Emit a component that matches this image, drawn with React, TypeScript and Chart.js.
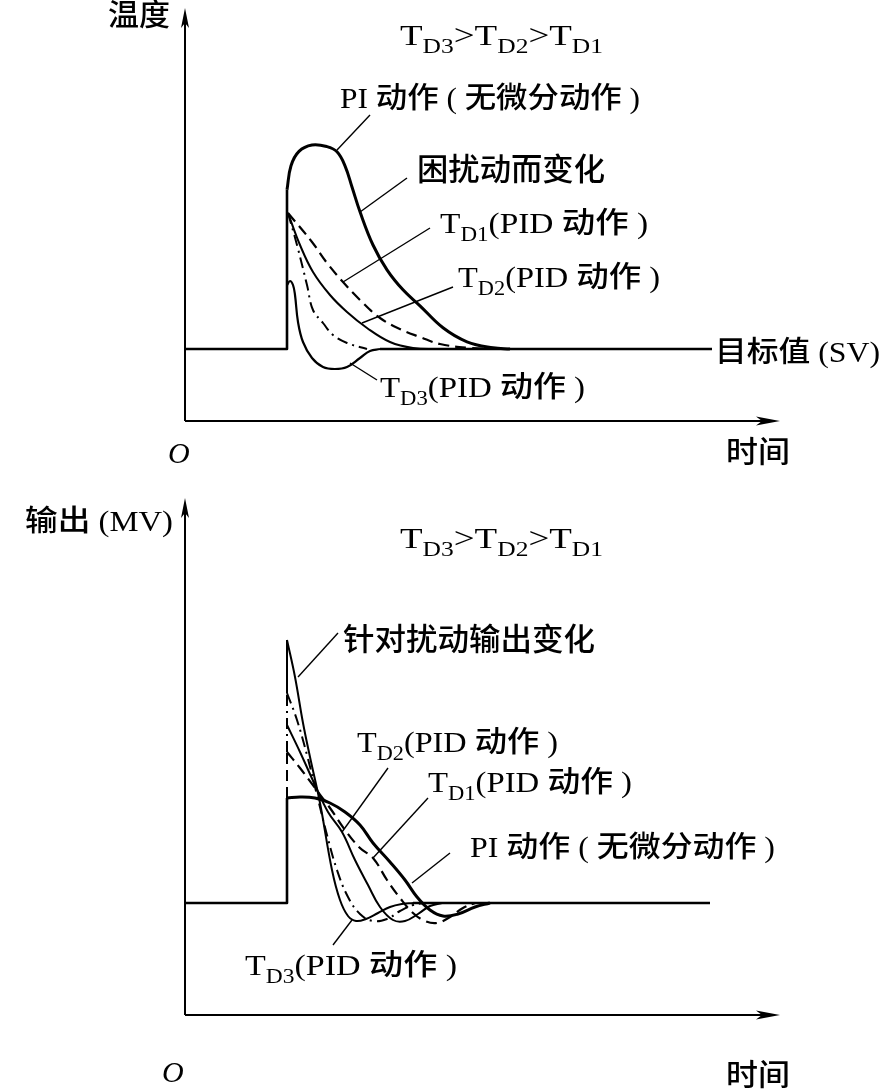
import React, { useEffect, useRef } from "react";
import { Chart, registerables } from "chart.js";
Chart.register(...registerables);

type P = [number, number];
type Part = [string, boolean];

const SERIF = '"Liberation Serif", "Noto Sans CJK SC", serif';
const X_MAX = 119;
const TOP_Y_MAX = 103.25;
const BOT_Y_MAX = 103.4;

// ---------- 温度 (top) ----------
const topBaseLeft: P[] = [[0, 18], [20.4, 18], [20.4, 57.8]];
const topBaseRight: P[] = [[39, 18], [105.4, 18]];
const topPI: P[] = [[20.4, 57.8], [21.2, 63.8], [22.8, 67.4], [25.4, 69], [28.4, 68.6], [30.4, 67.3], [32, 63.8], [33.4, 58.5], [35, 52.3], [37.6, 44], [40.4, 37.8], [43.6, 32.8], [47, 28.8], [51.6, 23.3], [56.4, 19.8], [61.6, 18.3], [65, 18]];
const topTD1: P[] = [[20.6, 52], [25.4, 44.75], [28.4, 39.5], [31.6, 34.75], [35, 30.25], [39, 25.75], [43.4, 22.75], [47, 21], [51, 19.25], [57, 18.25], [62, 18]];
const topTD2: P[] = [[20.6, 52], [23, 44], [25.6, 37.25], [29, 31.5], [32.4, 27.25], [36.4, 23.25], [41, 19.75], [45.6, 18.25], [51, 18]];
const topDD: P[] = [[20.6, 52], [22.4, 44], [24.4, 34], [25.6, 27.75], [27.6, 24.5], [29.6, 21.5], [32.4, 19.5], [36.4, 18]];
const topTD3: P[] = [[20.4, 34], [21, 35], [21.6, 34], [22, 31.5], [22.6, 24.75], [23.6, 19.75], [25.4, 15.75], [27.6, 13.5], [30, 13], [32.4, 13.5], [35, 15.75], [37, 17.5], [39, 18]];

// ---------- 输出 (bottom) ----------
const botBaseLeft: P[] = [[0, 22.4], [20.4, 22.4], [20.4, 43.4]];
const botBaseRight: P[] = [[45.6, 22.4], [105, 22.4]];
const botStepTD1: P[] = [[20.4, 43.4], [20.4, 52.6]];
const botStepDD: P[] = [[20.4, 52.6], [20.4, 64.4]];
const botStepTD3: P[] = [[20.4, 64.4], [20.4, 75]];
const botPI: P[] = [[20.4, 43.4], [23, 43.6], [26, 43.4], [29, 42.4], [32, 40.6], [35, 38], [37.6, 34.4], [41, 30.6], [44, 27], [46.4, 23.6], [49, 21], [51.6, 19.8], [54.6, 20.2], [58, 21.6], [61, 22.4]];
const botTD1: P[] = [[20.4, 52.6], [23, 49.4], [26, 45.4], [29, 41.4], [32, 37], [35, 33.4], [37.6, 31.4], [40.4, 27], [43, 23.4], [45.6, 20.4], [48, 18.8], [50.4, 18.4], [53, 19.6], [55.6, 21.4], [58, 22.4]];
const botTD2: P[] = [[20.4, 58], [23, 52.6], [26, 46], [28.6, 40.6], [31.4, 36.6], [34, 31], [36.6, 26], [39, 21.6], [41.6, 19], [44, 18.8], [46.6, 20.2], [49, 21.8], [51.4, 22.4]];
const botDD: P[] = [[20.4, 64.4], [22.4, 59], [24.4, 52], [26.4, 44], [28.4, 36], [30.4, 29], [32.6, 23.6], [35, 20.2], [37.6, 18.8], [40.4, 19.2], [43, 20.8], [45.6, 22], [48, 22.4]];
const botTD3: P[] = [[20.4, 75], [22, 67.6], [23.6, 58.4], [25, 51.6], [27, 42.4], [29.4, 29], [31, 23], [32.6, 19.8], [34.2, 18.8], [36.2, 19.2], [38.6, 20.4], [41, 21.6], [43.4, 22.2], [45.6, 22.4]];

// ---------- texts ----------
const TITLE: Part[] = [["T", false], ["D3", true], [">", false], ["T", false], ["D2", true], [">", false], ["T", false], ["D1", true]];
const td = (n: string): Part[] => [["T", false], ["D" + n, true], ["(PID 动作 )", false]];

type Label = { parts: Part[]; t: number; v: number; size: number; width?: number; italic?: boolean };
type Leader = [number, number, number, number];

const topLabels: Label[] = [
  { parts: [["温度", false]], t: -15.4, v: 99, size: 30, width: 62 },
  { parts: TITLE, t: 43, v: 94, size: 29, width: 203 },
  { parts: [["PI 动作 ( 无微分动作 )", false]], t: 31, v: 78.25, size: 29, width: 300 },
  { parts: [["困扰动而变化", false]], t: 46.4, v: 60.25, size: 31, width: 188 },
  { parts: td("1"), t: 51, v: 47, size: 29, width: 208 },
  { parts: td("2"), t: 54.6, v: 33.5, size: 29, width: 202 },
  { parts: [["目标值 (SV)", false]], t: 106, v: 14.75, size: 29, width: 165 },
  { parts: td("3"), t: 39, v: 6, size: 29, width: 205 },
  { parts: [["O", false]], t: -3.4, v: -10.5, size: 30, italic: true },
  { parts: [["时间", false]], t: 108.2, v: -10.25, size: 30, width: 64 },
];
const topLeaders: Leader[] = [
  [37, 76.5, 30.4, 67.75],
  [44.4, 60.75, 35, 52.25],
  [49, 48.25, 31.6, 34.75],
  [53.6, 33.5, 35.4, 24.5],
  [38.4, 10.25, 33, 14.5],
];

const botLabels: Label[] = [
  { parts: [["输出 (MV)", false]], t: -32, v: 96.8, size: 29, width: 148 },
  { parts: TITLE, t: 43, v: 93.4, size: 29, width: 203 },
  { parts: [["针对扰动输出变化", false]], t: 31.6, v: 73, size: 31, width: 252 },
  { parts: td("2"), t: 34.4, v: 52.6, size: 29, width: 201 },
  { parts: td("1"), t: 48.6, v: 44.6, size: 29, width: 204 },
  { parts: [["PI 动作 ( 无微分动作 )", false]], t: 57, v: 31.6, size: 29, width: 305 },
  { parts: td("3"), t: 12, v: 8, size: 29, width: 212 },
  { parts: [["O", false]], t: -4.6, v: -13.4, size: 30, italic: true },
  { parts: [["时间", false]], t: 108.2, v: -14, size: 30, width: 64 },
];
const botLeaders: Leader[] = [
  [30.6, 76.4, 22.6, 67.6],
  [40.6, 49.4, 31.4, 36.6],
  [48.6, 43.4, 37.6, 31.4],
  [53, 32.4, 45.4, 26.4],
  [29.6, 14, 33.4, 19],
];

const DASH = [11, 6];
const DASHDOT = [11, 5, 2, 5];

function ds(points: P[], width: number, dash: number[] = [], tension = 0.4) {
  return {
    data: points.map(([x, y]) => ({ x, y })),
    borderColor: "#000",
    borderWidth: width,
    borderDash: dash,
    tension,
    pointRadius: 0,
    fill: false,
    clip: false as any,
    borderCapStyle: "butt" as const,
    borderJoinStyle: "round" as const,
  };
}

function drawRich(ctx: CanvasRenderingContext2D, lab: Label, x: number, y: number) {
  const main = `${lab.italic ? "italic " : ""}500 ${lab.size}px ${SERIF}`;
  const sub = `500 ${Math.round(lab.size * 0.68)}px ${SERIF}`;
  let total = 0;
  const widths = lab.parts.map(([s, isSub]) => {
    ctx.font = isSub ? sub : main;
    const w = ctx.measureText(s).width;
    total += w;
    return w;
  });
  const k = lab.width ? lab.width / total : 1;
  ctx.save();
  ctx.translate(x, y);
  ctx.scale(k, 1);
  ctx.fillStyle = "#000";
  ctx.textBaseline = "alphabetic";
  let cx = 0;
  lab.parts.forEach(([s, isSub], i) => {
    ctx.font = isSub ? sub : main;
    ctx.fillText(s, cx, isSub ? lab.size * 0.27 : 0);
    cx += widths[i];
  });
  ctx.restore();
}

function overlay(labels: Label[], leaders: Leader[]) {
  return {
    id: "overlay",
    afterDatasetsDraw(chart: any) {
      const ctx: CanvasRenderingContext2D = chart.ctx;
      const { left, right, top, bottom } = chart.chartArea;
      const xs = chart.scales.x;
      const ys = chart.scales.y;
      ctx.save();
      ctx.strokeStyle = "#000";
      ctx.fillStyle = "#000";
      ctx.setLineDash([]);
      ctx.lineWidth = 2;
      ctx.beginPath();
      ctx.moveTo(left, bottom);
      ctx.lineTo(left, top + 10);
      ctx.moveTo(left, bottom);
      ctx.lineTo(right - 12, bottom);
      ctx.stroke();
      ctx.beginPath();
      ctx.moveTo(left, top);
      ctx.lineTo(left - 4, top + 20);
      ctx.lineTo(left, top + 15);
      ctx.lineTo(left + 4, top + 20);
      ctx.closePath();
      ctx.fill();
      ctx.beginPath();
      ctx.moveTo(right, bottom);
      ctx.lineTo(right - 24, bottom - 4.5);
      ctx.lineTo(right - 18, bottom);
      ctx.lineTo(right - 24, bottom + 4.5);
      ctx.closePath();
      ctx.fill();
      ctx.lineWidth = 1.4;
      leaders.forEach(([t1, v1, t2, v2]) => {
        ctx.beginPath();
        ctx.moveTo(xs.getPixelForValue(t1), ys.getPixelForValue(v1));
        ctx.lineTo(xs.getPixelForValue(t2), ys.getPixelForValue(v2));
        ctx.stroke();
      });
      labels.forEach((lab) => drawRich(ctx, lab, xs.getPixelForValue(lab.t), ys.getPixelForValue(lab.v)));
      ctx.restore();
    },
  };
}

function makeChart(canvas: HTMLCanvasElement, datasets: any[], yMax: number, padTop: number, padBottom: number, labels: Label[], leaders: Leader[]) {
  return new Chart(canvas, {
    type: "line",
    data: { datasets },
    options: {
      responsive: false,
      animation: false,
      devicePixelRatio: 1,
      layout: { padding: { left: 185, right: 102, top: padTop, bottom: padBottom } },
      scales: {
        x: { type: "linear", min: 0, max: X_MAX, display: false },
        y: { type: "linear", min: 0, max: yMax, display: false },
      },
      plugins: { legend: { display: false }, tooltip: { enabled: false }, title: { display: false } },
    },
    plugins: [overlay(labels, leaders)],
  } as any);
}

export default function App() {
  const topRef = useRef<HTMLCanvasElement>(null);
  const botRef = useRef<HTMLCanvasElement>(null);

  useEffect(() => {
    const top = makeChart(
      topRef.current!,
      [
        ds(topBaseLeft, 2.6, [], 0),
        ds(topBaseRight, 2.6, [], 0),
        ds(topTD1, 2.2, DASH),
        ds(topTD2, 2),
        ds(topDD, 2, DASHDOT),
        ds(topTD3, 2.2),
        ds(topPI, 3),
      ],
      TOP_Y_MAX, 8, 49, topLabels, topLeaders
    );
    const bot = makeChart(
      botRef.current!,
      [
        ds(botBaseLeft, 2.6, [], 0),
        ds(botBaseRight, 2.6, [], 0),
        ds(botStepTD1, 2, DASH, 0),
        ds(botStepDD, 2, DASHDOT, 0),
        ds(botStepTD3, 2, [], 0),
        ds(botTD1, 2.2, DASH),
        ds(botTD2, 2),
        ds(botDD, 2, DASHDOT),
        ds(botTD3, 2),
        ds(botPI, 3),
      ],
      BOT_Y_MAX, 28, 75, botLabels, botLeaders
    );
    return () => {
      top.destroy();
      bot.destroy();
    };
  }, []);

  return (
    <div style={{ position: "absolute", left: 0, top: 0, width: 882, height: 1090, background: "#fff" }}>
      <canvas ref={topRef} width={882} height={470} style={{ display: "block", width: 882, height: 470 }} />
      <canvas ref={botRef} width={882} height={620} style={{ display: "block", width: 882, height: 620 }} />
    </div>
  );
}
